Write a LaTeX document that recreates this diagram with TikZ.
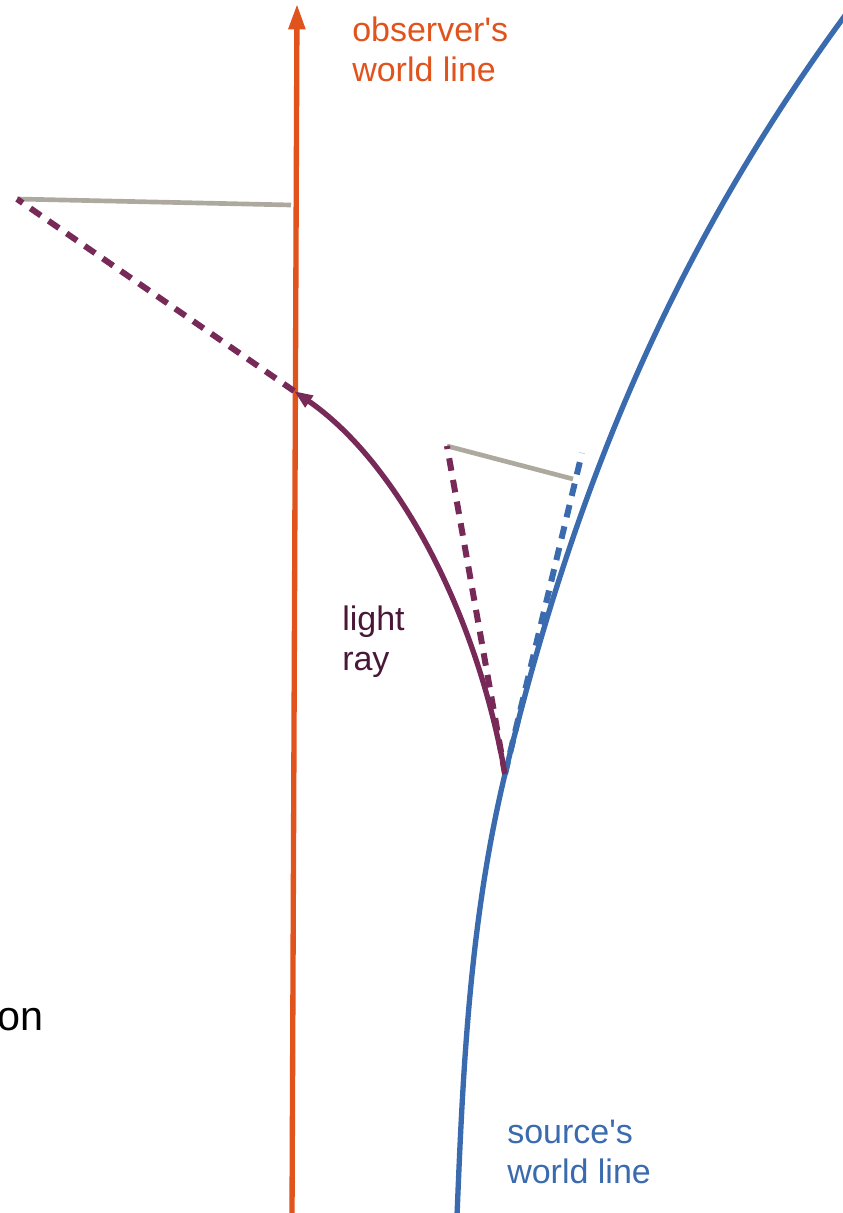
\documentclass[tikz,border=0pt]{standalone}
\usepackage{fontspec}
\setmainfont{Liberation Sans}
\usetikzlibrary{arrows.meta}
\definecolor{obsorange}{HTML}{E0531C}
\definecolor{raypurple}{HTML}{772A57}
\definecolor{raytext}{HTML}{4A1736}
\definecolor{srcblue}{HTML}{3A6BAE}
\definecolor{refgray}{HTML}{AEA99F}
\tikzset{
  world/.style={line width=4pt},
  tang/.style={line width=4.5pt, dash pattern=on 9.5pt off 7pt},
  grayline/.style={refgray, line width=3.5pt},
  lbl/.style={font=\fontsize{25.5}{29.5}\selectfont, inner sep=0pt, align=left},
}
\begin{document}
\begin{tikzpicture}[x=0.75pt,y=-0.75pt]
\useasboundingbox (0,0) rectangle (842,1213);
% points
\coordinate (obsBot) at (292,1216);
\coordinate (obsTop) at (297,4);
\coordinate (O) at (294,391);
\coordinate (E) at (505,774);
\coordinate (L) at (17,199);
\coordinate (Lg) at (291,205);
\coordinate (Rt) at (447,446);
\coordinate (Rg) at (573,479);
\coordinate (Bt) at (582,453);
\coordinate (srcBot) at (457,1216);
\coordinate (srcTop) at (858,-2);
% source world line
\draw[world, srcblue] (srcBot) .. controls (463,1066) and (470,920) .. (E)
  .. controls (575,482) and (678,238) .. (srcTop);
% observer world line
\draw[world, obsorange, -{Triangle[length=19pt, width=12pt]}] (obsBot) -- (obsTop);
% gray lines
\draw[grayline] (L) -- (Lg);
\draw[grayline] (Rt) -- (Rg);
% tangents
\draw[tang, raypurple] (O) -- (L);
\draw[tang, raypurple] (E) -- (Rt);
\draw[tang, srcblue] (E) -- (Bt);
% light ray
\draw[world, raypurple, -{Triangle[length=14pt, width=10pt]}] (E) .. controls (475,605) and (394,460) .. (O);
% labels
\node[lbl, text=obsorange, anchor=north west] (obslbl) at (352,17) {observer\textquotesingle s\\world line};
\node[lbl, text=raytext, anchor=north west] (raylbl) at (342,606) {light\\ray};
\node[lbl, text=srcblue, anchor=north west] (srclbl) at (507,1120) {source\textquotesingle s\\world line};
\node[lbl, text=black, anchor=base east, font=\fontsize{31}{35}\selectfont] (onlbl) at (44,1030) {on};
\end{tikzpicture}
\end{document}
